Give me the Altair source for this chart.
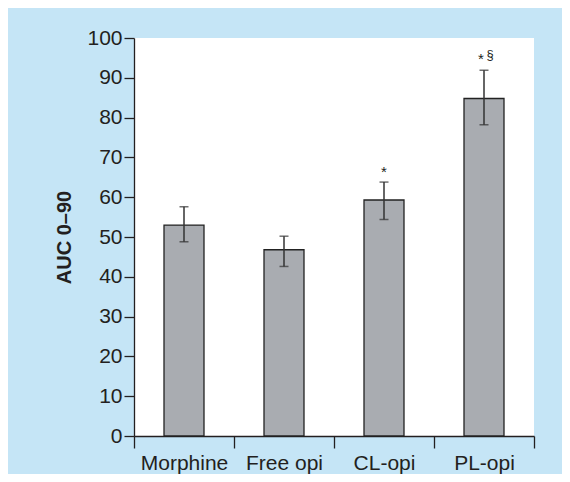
import altair as alt
import pandas as pd

groups = ["Morphine", "Free opi", "CL-opi", "PL-opi"]
means = [53.0, 46.8, 59.3, 84.8]
err_low = [48.8, 42.6, 54.4, 78.2]
err_high = [57.6, 50.2, 63.8, 91.9]
y_ticks = [0, 10, 20, 30, 40, 50, 60, 70, 80, 90, 100]

star_cl_group = ["CL-opi"]
star_cl_value = [66.3]
star_pl_group = ["PL-opi"]
star_pl_value = [94.7]
sect_group = ["PL-opi"]
sect_value = [95.8]

df = pd.DataFrame({"group": groups, "mean": means, "lo": err_low, "hi": err_high})
star_cl = pd.DataFrame({"group": star_cl_group, "v": star_cl_value, "t": ["*"]})
star_pl = pd.DataFrame({"group": star_pl_group, "v": star_pl_value, "t": ["*"]})
sects = pd.DataFrame({"group": sect_group, "v": sect_value, "t": ["§"]})

FONT = "Liberation Sans"
DARK = "#231f20"

x_axis = alt.Axis(
    title=None,
    labelAngle=0,
    tickBand="extent",
    tickSize=12,
    tickColor=DARK,
    tickWidth=1.3,
    domainColor=DARK,
    domainWidth=1.3,
    labelPadding=4,
    labelFontSize=21,
    labelColor=DARK,
    labelFont=FONT,
    labelOverlap=False,
)
y_axis = alt.Axis(
    title="AUC 0–90",
    values=y_ticks,
    grid=False,
    tickSize=10,
    tickColor=DARK,
    tickWidth=1.3,
    domainColor=DARK,
    domainWidth=1.3,
    labelFontSize=21,
    labelColor=DARK,
    labelFont=FONT,
    labelPadding=2,
    labelOverlap=False,
    titleFont=FONT,
    titleFontSize=20,
    titleFontWeight="bold",
    titleColor=DARK,
    titlePadding=12,
)
x_scale = alt.Scale(paddingInner=0, paddingOuter=0)
y_scale = alt.Scale(domain=[0, 100], nice=False)


def X():
    return alt.X("group:N", sort=groups, scale=x_scale, axis=x_axis)


def Y(field):
    return alt.Y(field, scale=y_scale, axis=y_axis)


base = alt.Chart(df)
bars = base.mark_bar(size=40, color="#a9acb1", stroke="#222222", strokeWidth=1.3).encode(x=X(), y=Y("mean:Q"))
rules = base.mark_rule(color="#333333", strokeWidth=1.5).encode(x=X(), y=Y("lo:Q"), y2="hi:Q")
cap_hi = base.mark_tick(color="#333333", thickness=1.5, size=9).encode(x=X(), y=Y("hi:Q"))
cap_lo = base.mark_tick(color="#333333", thickness=1.5, size=9).encode(x=X(), y=Y("lo:Q"))
txt_cl = alt.Chart(star_cl).mark_text(font=FONT, fontSize=15, color=DARK, baseline="middle").encode(
    x=X(), y=Y("v:Q"), text="t:N"
)
txt_pl = alt.Chart(star_pl).mark_text(font=FONT, fontSize=15, color=DARK, baseline="middle", dx=-3).encode(
    x=X(), y=Y("v:Q"), text="t:N"
)
txt_sect = alt.Chart(sects).mark_text(font=FONT, fontSize=13, color=DARK, baseline="middle", dx=6).encode(
    x=X(), y=Y("v:Q"), text="t:N"
)

chart = (
    alt.layer(bars, rules, cap_hi, cap_lo, txt_cl, txt_pl, txt_sect)
    .properties(
        width=400,
        height=398,
        autosize="none",
        padding={"left": 126, "top": 30, "right": 28, "bottom": 38},
        background="#c5e5f6",
    )
    .configure_view(fill="white", stroke=None)
)

chart.save("out.html", embed_options={"renderer": "svg", "actions": False})
